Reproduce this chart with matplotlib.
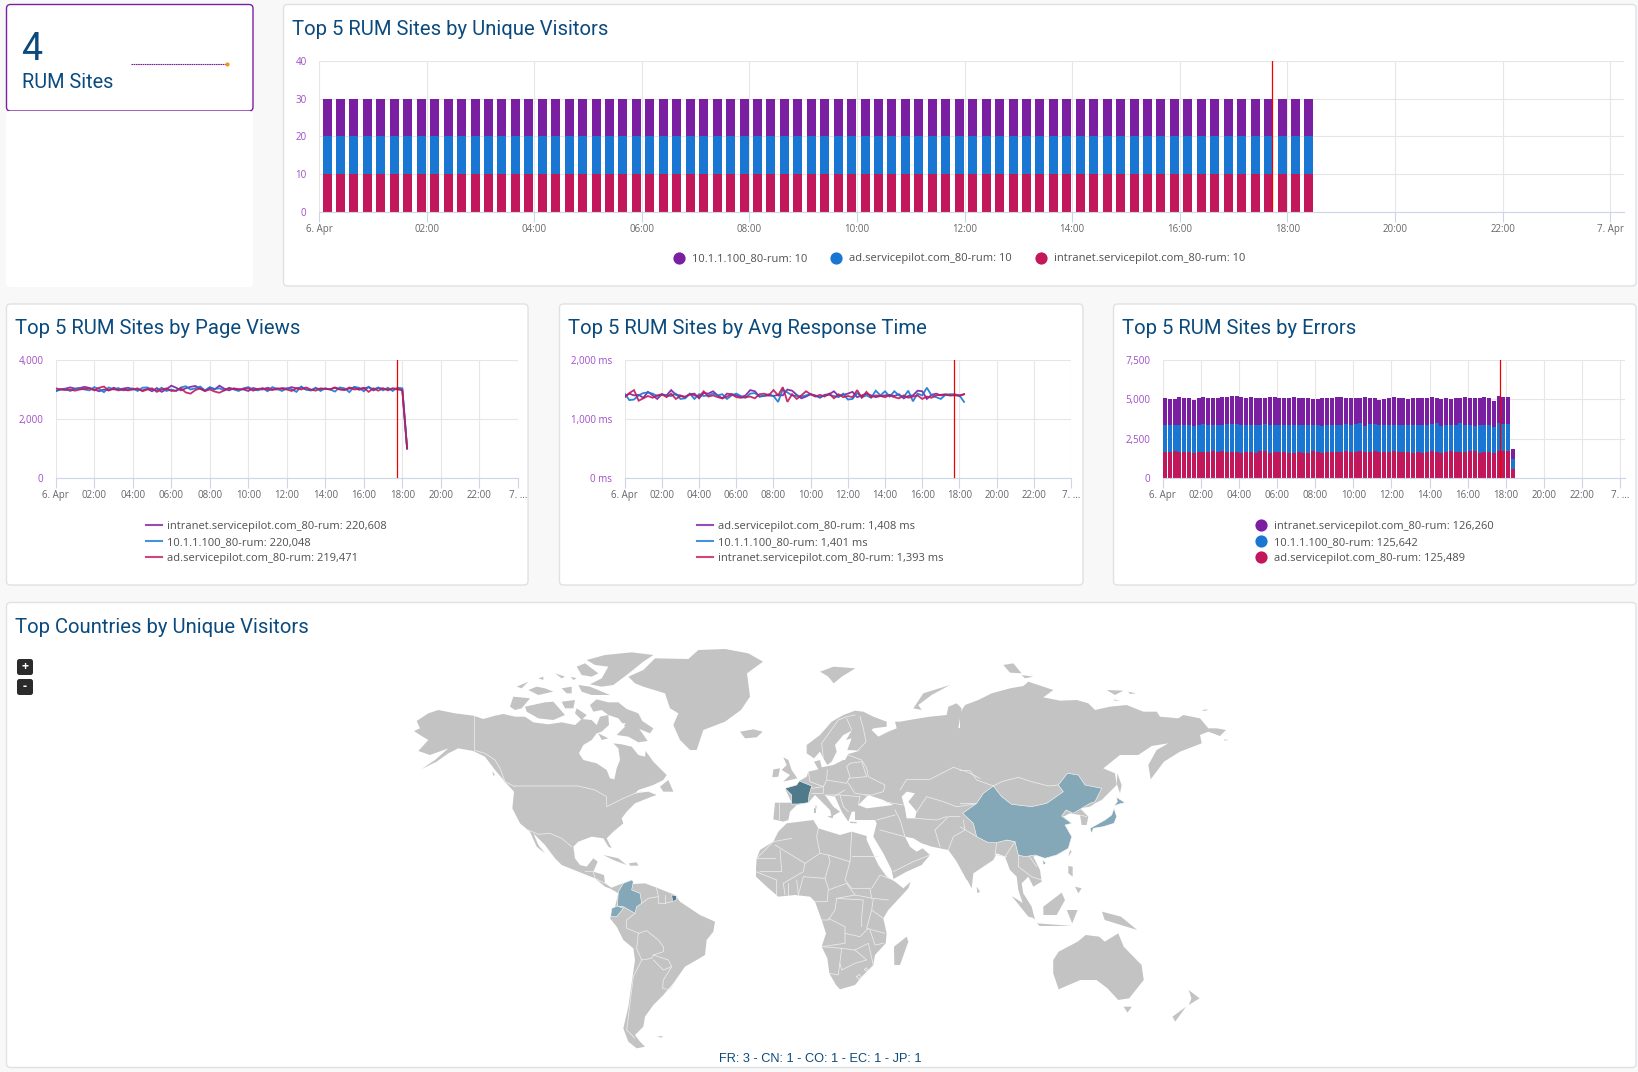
"""RUM sites dashboard: three panel rows with bar/line charts and a world map."""

import matplotlib
matplotlib.use("Agg")
import matplotlib.pyplot as plt
from matplotlib.patches import FancyBboxPatch, Polygon

W, H = 1638, 1072

TITLE_COLOR = "#0B4A7D"
PURPLE = "#7B1FA2"
BLUE = "#1976D2"
PINK = "#C2185B"
AXIS_PURPLE = "#A04CC8"
LAND = "#C3C3C3"
COUNTRY_LIGHT = "#84A8B8"
COUNTRY_DARK = "#4F7A8C"

HOUR_LABELS = ["6. Apr", "02:00", "04:00", "06:00", "08:00", "10:00", "12:00",
               "14:00", "16:00", "18:00", "20:00", "22:00"]
HOUR_TICKS = [0, 2, 4, 6, 8, 10, 12, 14, 16, 18, 20, 22, 24]
MARK_HOUR = 17.72

# unique visitors: every site reports 10 in each 15 minute bucket
UV_SITES = ["10.1.1.100_80-rum: 10", "ad.servicepilot.com_80-rum: 10",
            "intranet.servicepilot.com_80-rum: 10"]
UV_PER_BUCKET = [10] * 74

PV_LEGEND = ["intranet.servicepilot.com_80-rum: 220,608",
             "10.1.1.100_80-rum: 220,048",
             "ad.servicepilot.com_80-rum: 219,471"]
PV_PURPLE = [2960, 3010, 3030, 3070, 3030, 3050, 3090, 3050, 3000, 2940, 3000, 2970,
             3060, 3000, 3030, 3060, 3010, 3000, 2970, 3020, 2940, 3050, 2920, 3010,
             3130, 3060, 2970, 3040, 3090, 3120, 3020, 2950, 3060, 3000, 3130, 3030,
             2970, 3040, 3010, 3000, 2950, 3050, 3010, 3000, 3060, 3010, 3000, 3050,
             3030, 3080, 3040, 3070, 3000, 2970, 3040, 3010, 3030, 3010, 3060, 3010,
             3000, 3030, 3070, 2990, 3030, 3080, 2970, 3050, 3030, 3010, 3030, 3000,
             3000, 1010]
PV_BLUE = [2940, 3000, 3020, 2950, 3020, 3040, 3000, 2970, 3080, 3020, 2910, 3070,
           3000, 3050, 2970, 3000, 3040, 2950, 3060, 3070, 3000, 2970, 3060, 2950,
           3000, 2950, 3070, 3110, 3000, 3040, 3100, 2970, 3080, 3020, 3040, 2970,
           3060, 3000, 2950, 3040, 3080, 3000, 2970, 3040, 2940, 3080, 3020, 2950,
           3040, 3010, 2920, 3100, 3000, 2970, 3060, 2950, 3040, 3000, 2930, 3070,
           3040, 2910, 3090, 3060, 2940, 3090, 3000, 3070, 2970, 3060, 2950, 3060,
           3040, 990]
PV_PINK = [3040, 3000, 2980, 3000, 2960, 3000, 3020, 3040, 2970, 3060, 3100, 2970,
           3020, 2970, 3000, 2970, 3000, 3040, 2940, 3000, 3040, 2920, 3000, 3040,
           2950, 2960, 3040, 2900, 2860, 2980, 3040, 2950, 3000, 2930, 2890, 2970,
           3040, 3020, 3000, 3020, 3040, 2960, 3020, 3040, 3000, 2980, 3040, 3020,
           3000, 2950, 3040, 3000, 3070, 3000, 2960, 3040, 3020, 3000, 3070, 3000,
           2980, 3070, 3000, 3020, 3060, 2920, 3040, 2960, 3040, 2970, 3040, 3020,
           2970, 1000]

RT_LEGEND = ["ad.servicepilot.com_80-rum: 1,408 ms",
             "10.1.1.100_80-rum: 1,401 ms",
             "intranet.servicepilot.com_80-rum: 1,393 ms"]
RT_PURPLE = [1380, 1430, 1400, 1410, 1360, 1460, 1400, 1340, 1420, 1400, 1490, 1410,
             1400, 1360, 1420, 1430, 1350, 1440, 1430, 1470, 1400, 1350, 1430, 1420,
             1400, 1370, 1400, 1490, 1470, 1380, 1390, 1400, 1390, 1410, 1400, 1500,
             1480, 1410, 1350, 1380, 1420, 1400, 1360, 1410, 1420, 1470, 1390, 1410,
             1430, 1460, 1370, 1400, 1430, 1400, 1370, 1390, 1400, 1410, 1390, 1420,
             1350, 1390, 1400, 1480, 1470, 1340, 1410, 1430, 1400, 1410, 1400, 1410,
             1390, 1420]
RT_BLUE = [1430, 1320, 1330, 1400, 1440, 1450, 1430, 1390, 1410, 1400, 1390, 1430,
           1340, 1350, 1430, 1340, 1420, 1390, 1400, 1430, 1400, 1420, 1340, 1400,
           1430, 1390, 1360, 1430, 1440, 1380, 1400, 1420, 1390, 1290, 1500, 1450,
           1400, 1390, 1380, 1400, 1420, 1390, 1370, 1400, 1410, 1390, 1370, 1430,
           1330, 1340, 1440, 1370, 1400, 1360, 1480, 1400, 1470, 1380, 1470, 1400,
           1370, 1480, 1300, 1430, 1400, 1530, 1400, 1370, 1340, 1410, 1420, 1420,
           1400, 1290]
RT_PINK = [1370, 1440, 1490, 1310, 1350, 1390, 1360, 1400, 1420, 1370, 1430, 1340,
           1390, 1380, 1420, 1400, 1380, 1470, 1380, 1400, 1370, 1350, 1380, 1420,
           1370, 1360, 1370, 1380, 1350, 1420, 1430, 1400, 1490, 1400, 1540, 1290,
           1420, 1340, 1400, 1470, 1420, 1380, 1410, 1380, 1430, 1350, 1420, 1370,
           1390, 1370, 1490, 1360, 1460, 1370, 1400, 1390, 1370, 1400, 1370, 1350,
           1400, 1360, 1380, 1400, 1340, 1380, 1360, 1400, 1410, 1420, 1400, 1400,
           1400, 1420]

ERR_LEGEND = ["intranet.servicepilot.com_80-rum: 126,260",
              "10.1.1.100_80-rum: 125,642",
              "ad.servicepilot.com_80-rum: 125,489"]
ERR_PINK = [1680, 1680, 1700, 1680, 1680, 1680, 1600, 1680, 1680, 1680, 1710, 1680,
            1700, 1680, 1680, 1680, 1600, 1680, 1680, 1600, 1710, 1710, 1600, 1680,
            1680, 1680, 1600, 1560, 1680, 1600, 1600, 1720, 1680, 1560, 1680, 1680,
            1680, 1680, 1710, 1680, 1680, 1710, 1680, 1680, 1710, 1680, 1680, 1680,
            1710, 1680, 1680, 1680, 1600, 1680, 1600, 1680, 1710, 1680, 1600, 1680,
            1710, 1680, 1680, 1680, 1710, 1710, 1600, 1680, 1650, 1600, 1710, 1710,
            1740, 600]
ERR_BLUE = [1700, 1700, 1680, 1700, 1700, 1680, 1680, 1720, 1780, 1700, 1650, 1700,
            1680, 1760, 1760, 1760, 1800, 1700, 1700, 1800, 1660, 1720, 1800, 1700,
            1700, 1700, 1780, 1820, 1660, 1780, 1800, 1620, 1680, 1760, 1720, 1700,
            1720, 1700, 1720, 1680, 1780, 1800, 1640, 1760, 1700, 1680, 1680, 1700,
            1660, 1680, 1700, 1720, 1760, 1680, 1760, 1700, 1700, 1800, 1680, 1680,
            1660, 1680, 1800, 1680, 1680, 1620, 1760, 1700, 1700, 1660, 1800, 1720,
            1680, 630]
ERR_PURPLE = [1720, 1640, 1660, 1780, 1720, 1740, 1700, 1710, 1680, 1700, 1720, 1720,
              1770, 1720, 1760, 1800, 1720, 1720, 1780, 1700, 1700, 1660, 1720, 1780,
              1720, 1700, 1720, 1740, 1760, 1720, 1710, 1680, 1640, 1760, 1700, 1700,
              1720, 1800, 1660, 1740, 1640, 1600, 1800, 1640, 1700, 1620, 1660, 1720,
              1770, 1740, 1720, 1620, 1720, 1740, 1720, 1720, 1740, 1620, 1770, 1740,
              1660, 1720, 1620, 1760, 1720, 1780, 1720, 1740, 1760, 1640, 1680, 1730,
              1730, 620]

MAP_CAPTION = "FR: 3 - CN: 1 - CO: 1 - EC: 1 - JP: 1"

# map outlines by region; each region has its own origin and scale to picture pixels
NA_FRAME = (405, 645, 1 / 3, 1 / 3)
NA_LAND = [
    [(27, 258), (45, 250), (35, 228), (70, 205), (100, 195), (150, 205), (205, 212), (235, 222),
     (270, 212), (295, 207), (330, 215), (360, 215), (385, 232), (430, 238), (470, 232), (510, 240),
     (530, 222), (560, 225), (575, 240), (585, 215), (610, 210), (612, 240), (590, 260), (575, 265),
     (560, 285), (535, 300), (522, 325), (535, 345), (575, 355), (605, 375), (615, 400), (628, 403),
     (635, 370), (645, 345), (640, 310), (625, 295), (650, 298), (680, 305), (700, 330), (720, 335),
     (722, 318), (745, 350), (785, 390), (775, 405), (745, 420), (700, 435), (690, 445), (730, 440),
     (755, 450), (740, 455), (715, 465), (690, 475), (665, 500), (650, 520), (655, 535), (625, 560),
     (605, 580), (620, 610), (610, 605), (595, 580), (560, 575), (520, 590), (505, 605), (510, 640),
     (525, 660), (545, 665), (565, 640), (578, 650), (565, 680), (597, 690), (600, 715), (630, 735),
     (640, 725), (640, 740), (600, 725), (570, 700), (520, 680), (470, 660), (450, 640), (420, 600),
     (385, 565), (400, 600), (420, 625), (395, 605), (375, 560), (345, 535), (322, 490), (327, 440),
     (300, 410), (270, 375), (240, 335), (205, 318), (160, 310), (130, 325), (95, 350), (50, 372),
     (90, 345), (130, 310), (75, 330), (40, 318), (70, 285), (45, 270)],
    # Greenland
    [(670, 95), (715, 75), (750, 40), (850, 42), (880, 15), (960, 12), (1030, 25), (1074, 50),
     (1026, 85), (1035, 155), (1008, 195), (960, 230), (895, 255), (875, 315), (855, 315),
     (825, 285), (805, 240), (820, 205), (795, 190), (780, 145), (715, 125), (690, 115)],
    # arctic islands
    [(555, 180), (575, 163), (610, 172), (640, 172), (665, 192), (700, 205), (712, 228), (745, 250),
     (735, 265), (703, 252), (728, 288), (700, 292), (670, 275), (635, 270), (650, 255), (660, 245),
     (640, 220), (610, 210), (590, 195), (565, 200)],
    [(580, 265), (610, 280), (590, 285)],
    [(545, 45), (600, 30), (680, 22), (745, 30), (715, 50), (665, 90), (625, 120), (590, 125),
     (555, 118), (590, 100), (610, 65), (570, 60)],
    [(520, 120), (555, 125), (615, 150), (560, 150), (530, 140)],
    [(515, 65), (540, 55), (580, 85), (560, 95), (530, 90)],
    [(360, 185), (420, 172), (445, 170), (480, 210), (445, 225), (400, 220), (365, 200)],
    [(315, 185), (325, 155), (375, 160), (350, 190), (330, 195)],
    [(370, 135), (395, 125), (420, 130), (445, 140), (400, 150)],
    [(470, 130), (500, 125), (500, 145), (485, 145)],
    [(470, 170), (510, 165), (505, 190), (480, 190)],
    [(515, 190), (545, 210), (530, 225), (510, 205)],
    [(335, 125), (370, 110), (350, 130)],
    [(450, 85), (480, 95), (470, 100)],
    [(400, 100), (415, 95), (415, 105)],
    [(497, 95), (515, 100), (505, 105)],
    [(765, 425), (790, 405), (805, 440), (775, 440)],
    [(595, 630), (640, 640), (665, 660), (625, 645)],
    [(672, 655), (695, 652), (700, 662), (675, 662)],
    [(295, 408), (330, 435), (320, 420)],
    [(262, 378), (270, 390), (265, 392)],
]
NA_SEAS = [
    [(645, 235), (662, 235), (655, 245)],
    [(795, 205), (820, 205), (805, 218)],
]
NA_BORDERS = [
    [(208, 212), (208, 316), (240, 325), (270, 345), (285, 370), (300, 410), (330, 425)],
    [(330, 423), (520, 423), (570, 435), (605, 455), (605, 485), (655, 460), (690, 445), (710, 440)],
    [(370, 555), (400, 568), (435, 565), (470, 580), (500, 605)],
    [(540, 680), (565, 680), (570, 700), (600, 715)],
]

EU_FRAME = (740, 680, 1 / 3, 1 / 3)
EU_LAND = [
    [(315, 240), (325, 222), (360, 212), (322, 210), (335, 175), (318, 180), (335, 152), (310, 165),
     (285, 195), (290, 215), (275, 245), (262, 255), (250, 235), (240, 215), (222, 235), (200, 220),
     (200, 195), (240, 165), (275, 125), (310, 105), (345, 92), (370, 95), (400, 110), (440, 125),
     (440, 140), (400, 145), (395, 150), (415, 170), (445, 155), (470, 145), (465, 125), (480, 125),
     (520, 118), (570, 110), (620, 105), (625, 80), (650, 70), (665, 85), (655, 145), (670, 140),
     (680, 75), (700, 85), (720, 75), (720, 540), (680, 600), (650, 545), (625, 510), (575, 500),
     (545, 490), (520, 475), (495, 470), (510, 500), (530, 515), (548, 505), (570, 525), (545, 555),
     (500, 575), (460, 597), (455, 570), (430, 520), (400, 470), (410, 430), (405, 420), (345, 420),
     (345, 395), (335, 395), (325, 425), (305, 395), (285, 350), (255, 345), (280, 380), (300, 395),
     (275, 410), (270, 390), (250, 370), (225, 345), (205, 368), (170, 375), (150, 395), (145, 420),
     (130, 425), (100, 418), (105, 368), (155, 368), (135, 325), (170, 315), (178, 303), (200, 290),
     (205, 275), (235, 268), (222, 245), (240, 240), (245, 262), (280, 255), (310, 240)],
    [(0, 155), (40, 148), (68, 155), (50, 172), (15, 175)],
    [(130, 232), (145, 240), (155, 270), (172, 295), (130, 305), (150, 285), (125, 270), (140, 255)],
    [(100, 268), (120, 265), (115, 290), (97, 292)],
    [(520, 85), (550, 40), (630, 15), (575, 45), (535, 75), (545, 90)],
    [(222, 385), (228, 385), (228, 400), (222, 400)],
    [(262, 410), (280, 405), (278, 415)],
    [(330, 425), (350, 426), (350, 430), (330, 429)],
]
EU_SEAS = [
    [(355, 375), (385, 345), (400, 350), (430, 360), (460, 375), (420, 380), (380, 385)],
    [(485, 350), (500, 335), (525, 340), (505, 365), (530, 395), (525, 415), (500, 415), (495, 385)],
]
EU_BORDERS = [
    [(250, 235), (245, 190), (270, 155), (295, 120), (320, 110), (345, 105)],
    [(320, 115), (335, 150)],
    [(360, 110), (370, 145), (378, 185), (355, 210)],
    [(325, 225), (365, 240), (380, 265), (385, 290), (435, 315), (430, 335), (395, 345), (375, 345)],
    [(262, 270), (260, 300), (320, 310), (330, 290), (320, 260), (330, 250)],
    [(205, 275), (210, 305), (250, 320), (260, 300)],
    [(330, 250), (365, 245), (380, 290), (325, 295)],
    [(325, 310), (345, 340), (380, 345)],
    [(255, 345), (300, 345), (360, 350), (355, 375)],
    [(300, 345), (310, 380), (325, 395)],
    [(280, 350), (315, 330)],
    [(215, 325), (250, 320), (250, 340), (215, 340)],
    [(118, 370), (118, 418)],
    [(480, 330), (500, 298), (570, 298), (640, 262), (680, 275), (720, 295)],
    [(430, 365), (490, 375)],
    [(530, 395), (560, 350), (610, 365), (650, 380), (720, 370)],
    [(525, 415), (590, 420), (620, 410)],
    [(465, 390), (480, 420), (495, 470)],
    [(410, 420), (465, 405)],
    [(420, 450), (495, 470)],
    [(460, 575), (520, 545), (570, 525)],
    [(585, 450), (625, 410), (660, 410)],
    [(585, 450), (600, 500)],
    [(625, 510), (640, 470), (675, 450), (670, 420)],
]
EU_COUNTRIES = [
    ([(178, 303), (215, 318), (207, 345), (205, 368), (175, 372), (155, 372), (155, 345), (135, 325),
      (170, 315)], COUNTRY_DARK),
    ([(225, 375), (229, 375), (229, 384), (225, 384)], COUNTRY_DARK),
]

AS_FRAME = (960, 660, 1 / 3, 1 / 3)
AS_LAND = [
    [(0, 160), (15, 135), (55, 120), (95, 100), (150, 85), (190, 78), (205, 65), (280, 90), (250, 112),
     (300, 122), (350, 120), (385, 130), (405, 150), (450, 140), (500, 135), (550, 155), (590, 155),
     (600, 170), (655, 175), (670, 165), (720, 175), (745, 205), (770, 205), (798, 210), (780, 228),
     (745, 215), (720, 225), (725, 250), (660, 275), (612, 305), (572, 358), (565, 315), (590, 270),
     (625, 250), (575, 258), (535, 285), (480, 285), (430, 325), (465, 340), (470, 375), (425, 420),
     (405, 430), (390, 440), (360, 445), (385, 470), (380, 495), (365, 495), (360, 465), (330, 460),
     (310, 470), (335, 490), (315, 495), (335, 530), (325, 565), (290, 585), (255, 595), (230, 585),
     (220, 590), (240, 630), (245, 665), (220, 680), (205, 650), (185, 670), (190, 700), (215, 740),
     (225, 780), (190, 735), (175, 690), (170, 650), (150, 630), (135, 590), (110, 580), (100, 600),
     (40, 640), (35, 685), (0, 620)],
    [(472, 340), (485, 375), (480, 400), (470, 370)],
    [(330, 570), (335, 575), (325, 590)],
    [(325, 618), (338, 620), (338, 650), (325, 640)],
    [(345, 680), (365, 685), (355, 700)],
    [(50, 680), (60, 695), (52, 700)],
    [(250, 740), (305, 698), (315, 720), (290, 765), (250, 765)],
    [(155, 708), (190, 730), (225, 775), (205, 770)],
    [(440, 90), (490, 92), (465, 105)],
    [(505, 95), (528, 100), (510, 102)],
    [(460, 118), (480, 122), (465, 122)],
    [(130, 15), (160, 10), (185, 40), (150, 38)],
    [(185, 45), (220, 50), (195, 55)],
    [(725, 150), (745, 148), (735, 153)],
    [(790, 238), (805, 240), (795, 242)],
]
AS_BORDERS = [
    [(0, 332), (30, 332), (50, 360), (100, 378), (125, 365), (175, 352), (215, 365), (265, 378), (295, 375)],
    [(0, 500), (50, 530)],
    [(110, 548), (105, 585), (140, 590)],
    [(140, 540), (165, 545), (135, 590)],
    [(175, 585), (175, 620), (215, 650), (245, 660)],
    [(205, 585), (230, 620)],
    [(360, 465), (380, 470)],
    [(0, 430), (50, 430)],
]
AS_COUNTRIES = [
    ([(100, 378), (125, 410), (155, 433), (215, 440), (260, 430), (310, 395), (295, 375), (322, 340),
      (355, 345), (375, 375), (425, 385), (405, 425), (390, 430), (340, 460), (318, 450), (305, 468),
      (335, 490), (315, 495), (335, 530), (325, 565), (290, 585), (255, 595), (225, 585), (195, 590),
      (175, 585), (165, 545), (140, 540), (110, 548), (85, 548), (50, 530), (40, 490), (8, 460),
      (50, 430), (70, 400)], COUNTRY_LIGHT),
    ([(248, 600), (258, 610), (250, 615)], COUNTRY_LIGHT),
    ([(390, 505), (435, 480), (455, 465), (462, 445), (470, 470), (462, 490), (430, 500), (400, 505),
      (395, 520)], COUNTRY_LIGHT),
    ([(470, 412), (495, 428), (478, 432), (462, 438), (472, 425)], COUNTRY_LIGHT),
]

AF_FRAME = (740, 830, 1 / 3, 1 / 3)
AF_LAND = [
    [(50, 85), (60, 60), (100, 35), (115, 5), (140, -20), (220, -30), (235, -5), (300, 15), (335, 5),
     (380, 18), (380, 30), (415, 105), (440, 140), (465, 155), (490, 175), (512, 155), (505, 175),
     (445, 240), (430, 265), (440, 310), (437, 340), (405, 375), (400, 405), (370, 435), (345, 465),
     (300, 478), (288, 465), (268, 430), (262, 385), (245, 350), (258, 310), (245, 270), (225, 215),
     (210, 200), (165, 195), (115, 200), (80, 170), (48, 140), (48, 115)],
    [(500, 320), (505, 335), (480, 405), (463, 405), (462, 350)],
]
AF_BORDERS = [
    [(50, 85), (100, 35), (155, 25)],
    [(105, 45), (195, 100), (240, 70), (230, 20), (235, -5)],
    [(120, 60), (125, 125), (60, 125)],
    [(50, 85), (105, 85)],
    [(195, 100), (190, 125), (130, 160), (135, 195)],
    [(240, 70), (265, 75), (270, 95), (255, 145), (265, 175), (262, 215), (225, 215)],
    [(265, 75), (330, 95), (335, 5)],
    [(335, 78), (415, 78)],
    [(330, 95), (315, 150), (335, 175), (390, 175), (395, 205)],
    [(255, 145), (190, 140), (175, 195)],
    [(265, 180), (320, 160), (345, 195), (290, 205), (285, 240), (265, 270), (245, 270)],
    [(345, 195), (400, 205), (445, 210)],
    [(395, 175), (420, 135), (460, 150)],
    [(400, 205), (395, 240), (430, 265)],
    [(290, 205), (370, 210), (365, 260), (365, 290)],
    [(265, 265), (315, 290), (315, 340), (245, 350)],
    [(315, 310), (360, 320), (385, 295)],
    [(245, 350), (305, 355), (295, 435), (268, 430)],
    [(305, 355), (345, 360), (380, 390), (345, 400), (305, 420), (300, 400)],
    [(345, 360), (385, 340), (400, 405)],
    [(395, 240), (380, 295), (435, 310)],
    [(430, 340), (405, 345), (390, 300)],
    [(48, 125), (110, 150), (110, 195)],
    [(145, 160), (145, 195)],
    [(170, 150), (175, 195)],
    [(350, 440), (358, 433), (364, 441), (356, 448), (350, 440)],
    [(374, 418), (379, 413), (383, 419), (378, 424), (374, 418)],
]

SA_FRAME = (590, 860, 1 / 3, 1 / 3)
SA_LAND = [
    [(60, 85), (85, 75), (125, 60), (130, 72), (165, 70), (205, 85), (255, 105), (270, 125), (330, 165),
     (375, 185), (370, 215), (350, 240), (345, 285), (320, 300), (285, 320), (250, 370), (220, 405),
     (190, 435), (165, 470), (160, 500), (135, 525), (150, 545), (165, 560), (140, 565), (115, 545),
     (100, 505), (115, 440), (125, 370), (135, 300), (130, 265), (100, 240), (80, 200), (60, 175),
     (75, 140), (85, 100)],
    [(200, 530), (218, 528), (215, 533)],
]
SA_BORDERS = [
    [(155, 130), (175, 115), (205, 110), (205, 130), (225, 130), (245, 125)],
    [(200, 85), (205, 110)],
    [(225, 105), (225, 130)],
    [(135, 160), (110, 180), (110, 205), (135, 215), (145, 220)],
    [(145, 220), (170, 212), (205, 240), (220, 260), (220, 275), (190, 285), (185, 295), (155, 300),
     (140, 265), (145, 220)],
    [(190, 285), (235, 300), (245, 320), (220, 330), (190, 300)],
    [(155, 300), (130, 350), (120, 430), (110, 510), (135, 535)],
    [(245, 320), (220, 360), (218, 385), (240, 390), (250, 370)],
]
SA_COUNTRIES = [
    ([(125, 60), (100, 70), (85, 95), (82, 138), (100, 140), (135, 160), (140, 140), (155, 130),
      (150, 100), (125, 90), (130, 65)], COUNTRY_LIGHT),
    ([(65, 145), (82, 138), (100, 145), (80, 170), (62, 170)], COUNTRY_LIGHT),
    ([(245, 105), (260, 108), (258, 120), (248, 125)], COUNTRY_DARK),
]

OC_FRAME = (400, 640, 850 / 1568, 1 / 3)
OC_LAND = [
    [(1205, 960), (1215, 935), (1250, 905), (1265, 885), (1290, 890), (1300, 905), (1325, 880),
     (1335, 920), (1368, 975), (1372, 1020), (1345, 1075), (1325, 1080), (1305, 1045), (1285, 1020),
     (1255, 1020), (1215, 1048), (1205, 1000)],
    [(1455, 1050), (1475, 1075), (1455, 1095), (1460, 1075)],
    [(1450, 1100), (1430, 1145), (1425, 1130)],
    [(1335, 1100), (1350, 1100), (1342, 1118)],
    [(775, 95), (800, 80), (840, 85), (815, 110), (800, 130), (790, 110)],
    [(1175, 850), (1240, 858), (1180, 858)],
    [(1230, 810), (1250, 810), (1240, 850)],
    [(1295, 815), (1330, 830), (1360, 870), (1320, 850), (1300, 840)],
]

plt.rcParams["font.family"] = ["Open Sans", "DejaVu Sans"]

fig = plt.figure(figsize=(W / 100, H / 100), dpi=100, facecolor="#F8F8F8")
bg = fig.add_axes([0, 0, 1, 1])
bg.set_xlim(0, W)
bg.set_ylim(H, 0)
bg.axis("off")

LEGEND_SIZE = 8.05
LEGEND_COLOR = "#505050"
LEGEND_ROWS = (525, 541, 557)


def panel(x0, y0, x1, y1, edge="#DFE1E4", lw=1.0):
    box = FancyBboxPatch((x0, y0), x1 - x0, y1 - y0, boxstyle="round,pad=0,rounding_size=4",
                         fc="white", ec=edge, lw=lw)
    bg.add_patch(box)


def title(x, y, text):
    bg.text(x, y, text, family="Roboto", fontsize=14.6, color=TITLE_COLOR, va="center")


def chart_axes(x0, x1, y0, y1, two_hours, yticks, ylabels, last_label):
    """Axes placed by pixel box, hours on x; y range runs from 0 to the last tick."""
    ax = fig.add_axes([x0 / W, 1 - y1 / H, (x1 - x0) / W, (y1 - y0) / H])
    ax.patch.set_alpha(0)
    ax.set_xlim(0, (x1 - x0) / two_hours * 2)
    ax.set_ylim(0, yticks[-1])
    ax.set_xticks(HOUR_TICKS)
    ax.set_xticklabels(HOUR_LABELS + [last_label])
    ax.set_yticks(yticks)
    ax.set_yticklabels(ylabels)
    ax.grid(True, color="#E6E6E6", lw=0.8)
    ax.set_axisbelow(True)
    for side in ("top", "right", "left"):
        ax.spines[side].set_visible(False)
    ax.spines["bottom"].set_color("#CCD6EB")
    ax.spines["bottom"].set_linewidth(0.8)
    ax.tick_params(axis="x", length=7, width=0.8, color="#CCD6EB", labelcolor="#666666",
                   labelsize=7, pad=2)
    ax.tick_params(axis="y", length=0, labelcolor=AXIS_PURPLE, labelsize=7, pad=9)
    ax.axvline(MARK_HOUR, color="#F00000", lw=0.9, zorder=5)
    return ax


def stacked(ax, series, width, start):
    hours = [start + i * 0.25 for i in range(len(series[0][0]))]
    base = [0] * len(hours)
    for values, color in series:
        ax.bar(hours, values, width=width, bottom=base, color=color, zorder=2)
        base = [b + v for b, v in zip(base, values)]


def lines(ax, series):
    hours = [i * 0.25 for i in range(len(series[0][0]))]
    for values, color in series:
        ax.plot(hours, values, color=color, lw=1.3, alpha=0.9, zorder=3, solid_joinstyle="miter")


def line_legend(x, labels):
    for y, label, color in zip(LEGEND_ROWS, labels, (PURPLE, BLUE, PINK)):
        bg.plot([x, x + 16], [y, y], color=color, lw=1.5, alpha=0.8)
        bg.text(x + 21, y + 1.3, label, fontsize=LEGEND_SIZE, color=LEGEND_COLOR, va="center")


def to_pixels(frame, outline):
    ox, oy, sx, sy = frame
    return [(ox + x * sx, oy + y * sy) for x, y in outline]


def draw_region(frame, land=(), seas=(), borders=(), countries=()):
    for outline in land:
        bg.add_patch(Polygon(to_pixels(frame, outline), closed=True, fc=LAND, ec="none", zorder=2))
    for outline in seas:
        bg.add_patch(Polygon(to_pixels(frame, outline), closed=True, fc="white", ec="none", zorder=2.1))
    for border in borders:
        bg.plot(*zip(*to_pixels(frame, border)), color="#EDEDED", lw=0.55, zorder=2.2)
    for outline, color in countries:
        bg.add_patch(Polygon(to_pixels(frame, outline), closed=True, fc=color, ec="white", lw=0.4, zorder=2.3))


# panels
panel(6.5, 4.5, 253, 111, edge=PURPLE)
bg.add_patch(FancyBboxPatch((6, 111), 247, 176, boxstyle="round,pad=0,rounding_size=4", fc="white", ec="none"))
panel(283.5, 4.5, 1636, 286)
panel(6.5, 304, 528, 585)
panel(559.5, 304, 1083, 585)
panel(1113.5, 304, 1636, 585)
panel(6.5, 602.5, 1636, 1067.5)

# count card
bg.text(21, 49, "4", family="Roboto", fontsize=27, color=TITLE_COLOR, va="center")
bg.text(22, 82, "RUM Sites", family="Roboto", fontsize=14.3, color=TITLE_COLOR, va="center")
bg.plot([131, 227], [64, 64], color=PURPLE, lw=0.8, ls=(0, (1.5, 0.5)))
bg.plot([227], [64], marker="o", ms=3, color="#F7941D", mew=0)

# unique visitors
title(292, 29.5, "Top 5 RUM Sites by Unique Visitors")
ax = chart_axes(319, 1624, 61.2, 211.5, 107.6, [0, 10, 20, 30, 40], ["0", "10", "20", "30", "40"], "7. Apr")
stacked(ax, [(UV_PER_BUCKET, PINK), (UV_PER_BUCKET, BLUE), (UV_PER_BUCKET, PURPLE)], 0.167, 0.15)
for cx, label, color in zip((679, 836, 1041), UV_SITES, (PURPLE, BLUE, PINK)):
    bg.plot([cx], [257.5], marker="o", ms=8.8, color=color, mew=0)
    bg.text(cx + 13, 258.3, label, fontsize=LEGEND_SIZE, color=LEGEND_COLOR, va="center")

# page views
title(15, 329, "Top 5 RUM Sites by Page Views")
ax = chart_axes(55.8, 518, 360, 478, 38.5, [0, 2000, 4000], ["0", "2,000", "4,000"], "7. …")
lines(ax, [(PV_PURPLE, PURPLE), (PV_BLUE, BLUE), (PV_PINK, PINK)])
line_legend(146, PV_LEGEND)

# response time
title(568.5, 329, "Top 5 RUM Sites by Avg Response Time")
ax = chart_axes(624.7, 1071, 360, 478, 37.2, [0, 1000, 2000], ["0 ms", "1,000 ms", "2,000 ms"], "7. …")
lines(ax, [(RT_PURPLE, PURPLE), (RT_BLUE, BLUE), (RT_PINK, PINK)])
line_legend(697, RT_LEGEND)

# errors
title(1122, 329, "Top 5 RUM Sites by Errors")
ax = chart_axes(1162.8, 1625, 360, 478, 38.1, [0, 2500, 5000, 7500], ["0", "2,500", "5,000", "7,500"], "7. …")
stacked(ax, [(ERR_PINK, PINK), (ERR_BLUE, BLUE), (ERR_PURPLE, PURPLE)], 0.21, 0.125)
for y, label, color in zip(LEGEND_ROWS, ERR_LEGEND, (PURPLE, BLUE, PINK)):
    bg.plot([1261], [y], marker="o", ms=8.8, color=color, mew=0)
    bg.text(1274, y + 1.3, label, fontsize=LEGEND_SIZE, color=LEGEND_COLOR, va="center")

# map
title(15, 627.5, "Top Countries by Unique Visitors")
for y, sign in ((667, "+"), (687, "-")):
    bg.add_patch(FancyBboxPatch((17, y - 8), 16, 16, boxstyle="round,pad=0,rounding_size=2.5", fc="#2B2B2B", ec="none"))
    bg.text(25, y - 0.5, sign, color="white", fontsize=9, fontweight="bold", ha="center", va="center")

draw_region(NA_FRAME, NA_LAND, NA_SEAS, NA_BORDERS)
draw_region(OC_FRAME, OC_LAND)
draw_region(AF_FRAME, AF_LAND, borders=AF_BORDERS)
draw_region(SA_FRAME, SA_LAND, borders=SA_BORDERS, countries=SA_COUNTRIES)
draw_region(AS_FRAME, AS_LAND, borders=AS_BORDERS, countries=AS_COUNTRIES)
draw_region(EU_FRAME, EU_LAND, EU_SEAS, EU_BORDERS, EU_COUNTRIES)
bg.text(820, 1058.5, MAP_CAPTION, family="Liberation Sans", fontsize=9.2, color=TITLE_COLOR, ha="center", va="center")

fig.savefig("out.png", dpi=100, facecolor=fig.get_facecolor())
